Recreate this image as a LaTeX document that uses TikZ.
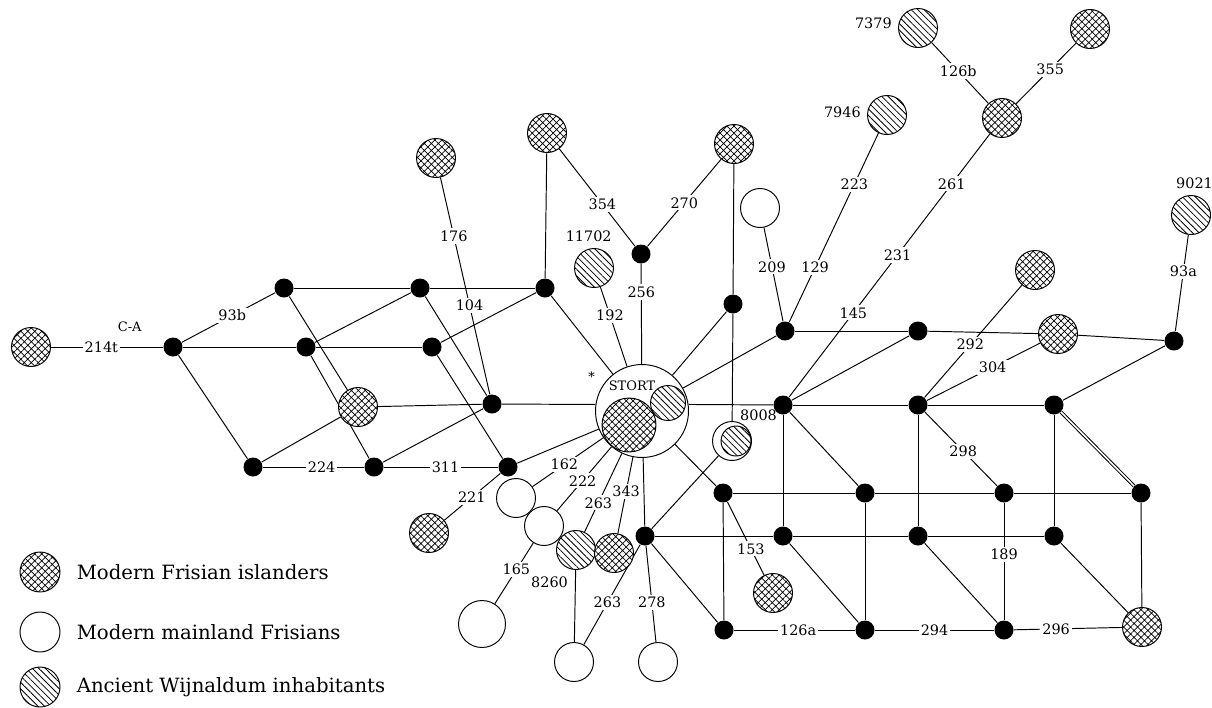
\documentclass[tikz,border=0pt]{standalone}
\usepackage{fontspec}
\setmainfont{DejaVu Serif}
\usetikzlibrary{positioning, patterns.meta, backgrounds}
\newcommand{\lblfont}{\fontsize{8.2}{9}\selectfont}
\newcommand{\smfont}{\fontsize{7.4}{8}\selectfont}
\newcommand{\legfont}{\fontsize{11.2}{13}\selectfont}
\tikzset{x=0.02cm, y=-0.02cm, % one unit is one pixel of the layout
bub/.style={circle, draw, line width=0.55pt, inner sep=0pt, minimum size=0.78cm}, % every sample circle
dot/.style={circle, fill=black, inner sep=0pt, minimum size=0.38cm}, % median vectors
ring/.style={bub, fill=white}, % modern mainland Frisians
isle/.style={bub, preaction={fill=white},
pattern={Hatch[angle=45, distance=2.8pt, line width=0.4pt]}}, % modern islanders
anc/.style={bub, preaction={fill=white},
pattern={Lines[angle=-45, distance=2.6pt, line width=0.45pt]}}, % ancient Wijnaldum
lbl/.style={fill=white, inner sep=1.2pt, font=\lblfont}, % mutation on a link
every label/.style={font=\lblfont},
every edge/.style={draw, line width=0.55pt}}

\begin{document}
\begin{tikzpicture}[line width=0.55pt]
    \useasboundingbox (0,0) rectangle (1212,707);

    % left part
    \node[isle] (isl1) at (31,347) {};
    \node[dot, label={[font=\smfont, label distance=9.5pt]160:C-A}] (n1) at (173,347) {};
    \node[dot] (n2) at (284,288) {};
    \node[dot] (n3) at (306,347) {};
    \node[dot] (n4) at (420,288) {};
    \node[dot] (n5) at (432,347) {};
    \node[dot] (n6) at (545,288) {};
    \node[isle] (isl2) at (358,407) {};
    \node[dot] (n7) at (492,404) {};
    \node[dot] (n8) at (253,467) {};
    \node[dot] (n9) at (374,467) {};
    \node[dot] (n10) at (508,467) {};
    \node[isle] (isl3) at (436,158) {};
    \node[isle] (isl4) at (547,133) {};
    \node[isle] (isl6) at (429,533) {};

    % centre
    \node[ring, minimum size=1.86cm,
          label={[font=\smfont, label distance=-18.5pt, xshift=-5.7pt]90:STORT},
          label={[font=\smfont]150:*}] (stort) at (642,411) {};
    \node[isle, minimum size=1.08cm] (stortisl) at (629,425) {};
    \node[anc, minimum size=0.7cm] (stortanc) at (668,403) {};
    \node[dot] (n11) at (641,254) {};
    \node[isle] (isl5) at (734,144) {};
    \node[anc, label={[xshift=-3pt]above:11702}] (anc1) at (594,268) {};
    \node[dot] (n12) at (733,304) {};
    \node[ring, label={[xshift=-7pt]above right:8008}] (w8008) at (732,441) {};
    \node[anc, minimum size=0.6cm] (anc3) at (736,441) {};
    \node[ring] (main1) at (516,498) {};
    \node[ring] (main2) at (544,526) {};
    \node[anc, label={[xshift=7pt, yshift=-3.5pt]below left:8260}] (anc2) at (576,550) {};
    \node[isle] (isl7) at (614,553) {};
    \node[ring, minimum size=0.94cm] (main3) at (482,624) {};
    \node[ring] (main4) at (574,662) {};
    \node[ring] (main5) at (658,662) {};
    \node[dot] (n13) at (645,536) {};

    % right part
    \node[ring] (main6) at (760,208) {};
    \node[anc, label={[yshift=1.7pt]left:7946}] (anc4) at (887,115) {};
    \node[isle] (isl8) at (1002,118) {};
    \node[anc, label={[yshift=2.8pt]left:7379}] (anc5) at (918,28) {};
    \node[isle] (isl9) at (1090,29) {};
    \node[anc, label={[xshift=2pt]above:9021}] (anc6) at (1191,215) {};
    \node[isle] (isl10) at (1035,270) {};
    \node[isle] (isl11) at (1058,334) {};
    \node[dot] (n14) at (785,331) {};
    \node[dot] (n15) at (918,331) {};
    \node[dot] (n16) at (1174,341) {};
    \node[dot] (n17) at (783,405) {};
    \node[dot] (n18) at (918,405) {};
    \node[dot] (n19) at (1054,405) {};
    \node[dot] (n20) at (723,493) {};
    \node[dot] (n21) at (865,493) {};
    \node[dot] (n22) at (1004,493) {};
    \node[dot] (n23) at (1141,493) {};
    \node[dot] (n24) at (783,536) {};
    \node[dot] (n25) at (918,536) {};
    \node[dot] (n26) at (1054,536) {};
    \node[dot] (n27) at (724,630) {};
    \node[dot] (n28) at (865,630) {};
    \node[dot] (n29) at (1004,630) {};
    \node[isle] (isl12) at (773,593) {};
    \node[isle] (isl13) at (1142,627) {};

    % legend
    \node[isle, minimum size=0.8cm] (leg1) at (40,572) {};
    \node[ring, minimum size=0.8cm] (leg2) at (40,632) {};
    \node[anc, minimum size=0.8cm] (leg3) at (40,687) {};
    \node[right=0.2cm of leg1, font=\legfont] (leg1txt) {Modern Frisian islanders};
    \node[right=0.2cm of leg2, font=\legfont] (leg2txt) {Modern mainland Frisians};
    \node[right=0.2cm of leg3, font=\legfont] (leg3txt) {Ancient Wijnaldum inhabitants};

    % links
    \begin{pgfonlayer}{background}
    \draw (isl1) edge node[lbl, pos=.45] {214t} (n1);
    \draw (n1) edge node[lbl, pos=.54] {93b} (n2);
    \draw (n1) edge (n3);
    \draw (n3) edge (n5);
    \draw (n1) edge (n8);
    \draw (n2) edge (n4);
    \draw (n4) edge (n6);
    \draw (n2) edge (isl2);
    \draw (n3) edge (n9);
    \draw (n3) edge (n4);
    \draw (n5) edge (n6);
    \draw (n4) edge (n7);
    \draw (n5) edge (n10);
    \draw (n8) edge (isl2);
    \draw (n9) edge (n7);
    \draw (isl2) edge (n7);
    \draw (n8) edge node[lbl, pos=.58] {224} (n9);
    \draw (n9) edge node[lbl, pos=.54] {311} (n10);
    \draw (isl3) edge node[lbl, pos=.27] {176} node[lbl, pos=.59] {104} (n7);
    \draw (n6) edge (isl4);
    \draw (n6) edge (stort);
    \draw (n7) edge (stort.172);
    \draw (n10) edge (stort);
    \draw (n10) edge node[lbl, pos=.51] {221} (isl6);

    \draw (isl4) edge node[lbl, pos=.57] {354} (n11);
    \draw (n11) edge node[lbl, pos=.5] {270} (isl5);
    \draw (n11) edge node[lbl, pos=.28] {256} (stort);
    \draw (anc1) edge node[lbl, pos=.36] {192} (stort);
    \draw (isl5) edge (n12);
    \draw (n12) edge (w8008);
    \draw (stort) edge (n12);
    \draw (stort) edge (n14);
    \draw (stort.8) edge (n17);
    \draw (stort) edge (n20);
    \draw (stort) edge (n13);
    \draw (stort) edge node[lbl, pos=.55] {162} (main1);
    \draw (stort) edge node[lbl, pos=.53] {222} (main2);
    \draw (stort) edge node[lbl, pos=.63] {263} (anc2);
    \draw (stort) edge node[lbl, pos=.45] {343} (isl7);
    \draw (main2) edge node[lbl, pos=.44] {165} (main3);
    \draw (anc2) edge (main4);
    \draw (n13) edge node[lbl, pos=.58] {263} (main4);
    \draw (n13) edge node[lbl, pos=.59] {278} (main5);
    \draw (n13) edge (w8008);
    \draw (n13) edge (n27);
    \draw (n13) edge (n24);

    \draw (main6) edge node[lbl, pos=.42] {209} (n14);
    \draw (anc4) edge node[lbl, pos=.27] {223} node[lbl, pos=.71] {129} (n14);
    \draw (n14) edge (n15);
    \draw (n15) edge (isl11);
    \draw (isl11) edge (n16);
    \draw (n16) edge node[lbl, pos=.62] {93a} (anc6);
    \draw (n16) edge (n19);
    \draw (n17) edge (n15);
    \draw (n17) edge node[lbl, pos=.32] {145} node[lbl, pos=.54] {231}
        node[lbl, pos=.81] {261} (isl8);
    \draw (isl8) edge node[lbl, pos=.53] {126b} (anc5);
    \draw (isl8) edge node[lbl, pos=.57] {355} (isl9);
    \draw (n17) edge (n18);
    \draw (n18) edge (n19);
    \draw (n18) edge node[lbl, pos=.47] {292} (isl10);
    \draw (n18) edge node[lbl, pos=.58] {304} (isl11);
    \draw (n18) edge node[lbl, pos=.53] {298} (n22);
    \draw (n17) edge (n24);
    \draw (n18) edge (n25);
    \draw (n19) edge (n26);
    \draw (n17) edge (n21);
    \draw (n19) edge[double, double distance=0.9pt] (n23);
    \draw (n20) edge (n21);
    \draw (n21) edge (n22);
    \draw (n22) edge (n23);
    \draw (n20) edge (n27);
    \draw (n20) edge node[lbl, pos=.64] {153} (isl12);
    \draw (n21) edge (n28);
    \draw (n22) edge node[lbl, pos=.44] {189} (n29);
    \draw (n23) edge (isl13);
    \draw (n24) edge (n25);
    \draw (n25) edge (n26);
    \draw (n24) edge (n28);
    \draw (n25) edge (n29);
    \draw (n26) edge (isl13);
    \draw (n27) edge node[lbl, pos=.53] {126a} (n28);
    \draw (n28) edge node[lbl, pos=.5] {294} (n29);
    \draw (n29) edge node[lbl, pos=.39] {296} (isl13);
    \end{pgfonlayer}

\end{tikzpicture}
\end{document}
